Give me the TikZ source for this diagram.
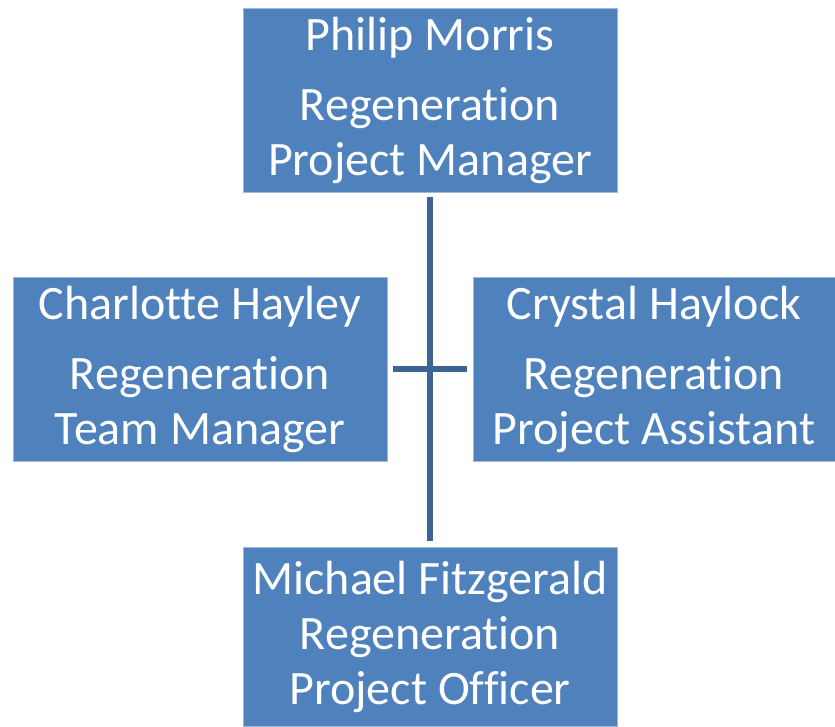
\documentclass[tikz,border=0pt]{standalone}
\usepackage{fontspec}
\setmainfont{Carlito}[Ligatures=NoCommon]
\usetikzlibrary{positioning}

\definecolor{boxblue}{HTML}{4F81BD}
\definecolor{lineblue}{HTML}{3D6594}

\begin{document}
\begin{tikzpicture}[x=1pt,y=-1pt,
 staffbox/.style={fill=boxblue,draw=boxblue!55!white,line width=0.8pt,text=white,align=center,inner sep=0pt,minimum height=184pt,font=\fontsize{48}{55}\selectfont},
 link/.style={draw=lineblue,line width=5.5pt}]
 \useasboundingbox (0,0) rectangle (835,726);
 % staff boxes
 \node[staffbox,minimum width=374pt] (pm) at (430,100) {Philip Morris\\[15pt]Regeneration\\Project Manager};
 \node[staffbox,minimum width=374pt] (tm) at (200,369) {Charlotte Hayley\\[15pt]Regeneration\\Team Manager};
 \node[staffbox,minimum width=362pt] (pa) at (654,369) {Crystal Haylock\\[15pt]Regeneration\\Project Assistant};
 \node[staffbox,minimum width=374pt,minimum height=179pt] (po) at (430,636.5) {Michael Fitzgerald\\Regeneration\\Project Officer};
 % connectors
 \draw[link,shorten <=5pt,shorten >=6pt] (pm.south) -- (po.north);
 \draw[link,shorten <=6pt,shorten >=6pt] (tm.east) -- (pa.west);
\end{tikzpicture}
\end{document}
